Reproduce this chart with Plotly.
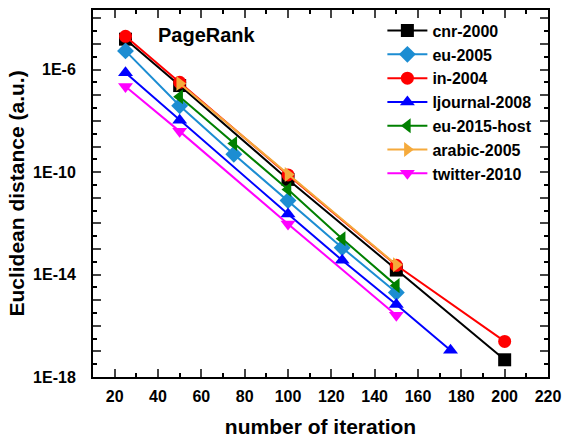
import plotly.graph_objects as go

# iteration counts and Euclidean distances
cnr_x = [25, 50, 100, 150, 200]
cnr_y = [1.55e-5, 2.4e-7, 5.2e-11, 1.5e-14, 4.7e-18]

eu2005_x = [25, 50, 75, 100, 125, 150]
eu2005_y = [5.4e-6, 3.9e-8, 5.0e-10, 7.8e-12, 1.12e-13, 2.0e-15]

in2004_x = [25, 50, 100, 150, 200]
in2004_y = [2.0e-5, 3.2e-7, 7.8e-11, 2.3e-14, 2.45e-17]

ljournal_x = [25, 50, 100, 125, 150, 175]
ljournal_y = [7.6e-7, 1.07e-8, 2.3e-12, 3.6e-14, 6.8e-16, 1.1e-17]

eu2015_x = [50, 75, 100, 125, 150]
eu2015_y = [8.7e-8, 1.32e-9, 2.1e-11, 2.5e-13, 3.7e-15]

arabic_x = [50, 100, 150]
arabic_y = [2.9e-7, 8.1e-11, 2.4e-14]

twitter_x = [25, 50, 100, 150]
twitter_y = [2.2e-7, 3.9e-9, 9.5e-13, 2.6e-16]

series = [
    ("cnr-2000", cnr_x, cnr_y, "#000000", "square"),
    ("eu-2005", eu2005_x, eu2005_y, "#1C8DD2", "diamond"),
    ("in-2004", in2004_x, in2004_y, "#FF0000", "circle"),
    ("ljournal-2008", ljournal_x, ljournal_y, "#0000FF", "triangle-up"),
    ("eu-2015-host", eu2015_x, eu2015_y, "#008000", "triangle-left"),
    ("arabic-2005", arabic_x, arabic_y, "#F5AA3C", "triangle-right"),
    ("twitter-2010", twitter_x, twitter_y, "#FF00FF", "triangle-down"),
]

x_ticks = list(range(20, 221, 20))
y_exps = list(range(-18, -3))
y_labels = ["1E%d" % e if e in (-18, -14, -10, -6) else "" for e in y_exps]

FONT = "Arial, Liberation Sans, sans-serif"

fig = go.Figure()
for name, xs, ys, col, sym in series:
    fig.add_trace(go.Scatter(
        x=xs, y=ys, name=name, mode="lines+markers",
        line=dict(color=col, width=2),
        marker=dict(symbol=sym, size=13, color=col, line=dict(width=0)),
    ))

fig.update_layout(
    width=569, height=443,
    margin=dict(l=93, r=14, t=8, b=63),
    paper_bgcolor="white", plot_bgcolor="white",
    font=dict(family=FONT, size=16, color="black", weight="bold"),
    showlegend=True,
    legend=dict(x=0.636, y=0.99, xanchor="left", yanchor="top",
                bgcolor="rgba(0,0,0,0)", tracegroupgap=0,
                font=dict(size=16, family=FONT, weight="bold"),
                itemwidth=40),
    annotations=[dict(text="PageRank", x=0.251, y=0.933, xref="paper", yref="paper",
                      xanchor="center", yanchor="middle",
                      showarrow=False, font=dict(size=20, family=FONT, weight="bold"))],
)

fig.update_xaxes(
    range=[10, 220], tickvals=x_ticks, ticks="inside", ticklen=8, tickwidth=2,
    showline=True, linewidth=2, linecolor="black", mirror="ticks",
    showgrid=False, zeroline=False, ticklabelstandoff=4,
    tickfont=dict(size=16, family=FONT, weight="bold"),
    minor=dict(tickvals=list(range(10, 221, 10)), ticks="inside", ticklen=4, tickwidth=2,
               tickcolor="black", showgrid=False),
    title=dict(text="number of iteration", font=dict(size=21, family=FONT, weight="bold"), standoff=15),
)
fig.update_yaxes(
    type="log", range=[-18, -3.67],
    tickvals=[10.0 ** e for e in y_exps], ticktext=y_labels,
    ticks="inside", ticklen=8, tickwidth=2,
    showline=True, linewidth=2, linecolor="black", mirror="ticks",
    showgrid=False, zeroline=False, ticklabelstandoff=12,
    tickfont=dict(size=16, family=FONT, weight="bold"),
    minor=dict(tickvals=[10.0 ** (e + 0.5) for e in y_exps], ticks="inside", ticklen=4, tickwidth=2,
               tickcolor="black", showgrid=False),
    title=dict(text="Euclidean distance (a.u.)", font=dict(size=21, family=FONT, weight="bold"), standoff=3),
)

fig.write_html("out.html")
